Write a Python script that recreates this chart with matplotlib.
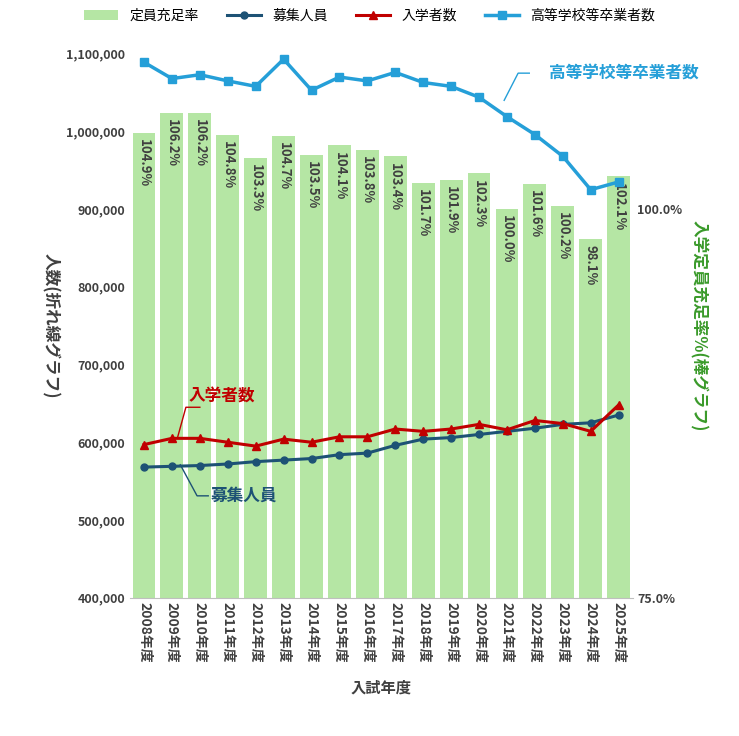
import matplotlib
matplotlib.use("Agg")
import matplotlib.pyplot as plt
import numpy as np

plt.rcParams['font.family'] = ['Noto Sans CJK JP', 'DejaVu Sans']

years = [f"{y}年度" for y in range(2008, 2026)]
rate = [104.9,106.2,106.2,104.8,103.3,104.7,103.5,104.1,103.8,103.4,101.7,101.9,102.3,100.0,101.6,100.2,98.1,102.1]
boshu = [568000,569000,570000,572000,575000,577000,579000,584000,586000,596000,604000,606000,610000,614000,618000,623000,625000,635000]
nyugaku = [597000,605000,605000,600000,595000,604000,600000,607000,607000,617000,614000,617000,623000,616000,628000,624000,614000,648000]
kotou = [1089000,1068000,1073000,1065000,1058000,1093000,1053000,1070000,1065000,1076000,1063000,1058000,1044000,1019000,996000,968000,925000,935000]

fig = plt.figure(figsize=(7.39,7.36), dpi=100)
ax = fig.add_axes([0.176, 0.188, 0.68, 0.739])
ax2 = ax.twinx()
x = np.arange(len(years))

ax2.bar(x, rate, width=0.82, color='#b5e6a4', zorder=1, label='定員充足率')
ax2.set_ylim(75, 110)
ax2.set_yticks([75, 100])
ax2.set_yticklabels(['75.0%', '100.0%'], fontsize=9, color='#404040', fontweight='bold')
for i, r in enumerate(rate):
    ax2.text(i, r - 0.4, f"{r:.1f}%", rotation=-90, ha='center', va='top', fontsize=9.5, color='#404040', fontweight='bold')
ax2.set_ylabel('入学定員充足率%(棒グラフ)', rotation=-90, labelpad=18, fontsize=12, color='#3a9a2a', fontweight='bold')

ax.set_zorder(ax2.get_zorder()+1); ax.patch.set_visible(False)
ax.plot(x, boshu, color='#1d5275', marker='o', ms=5, lw=2.2, label='募集人員')
ax.plot(x, nyugaku, color='#c00000', marker='^', ms=6, lw=2.2, label='入学者数')
ax.plot(x, kotou, color='#259fd8', marker='s', ms=6, lw=2.5, label='高等学校等卒業者数')
ax.set_ylim(400000, 1100000)
ax.set_xlim(-0.5, len(years)-0.5)
ax.set_yticks(range(400000, 1100001, 100000))
ax.set_yticklabels([f"{v:,}" for v in range(400000, 1100001, 100000)], fontsize=9, color='#404040', fontweight='bold')
ax.set_xticks(x)
ax.set_xticklabels(years, rotation=-90, fontsize=10, color='#404040', fontweight='bold')
ax.set_ylabel('人数(折れ線グラフ)', rotation=-90, labelpad=18, fontsize=12, fontweight='bold', color='#404040')
ax.set_xlabel('入試年度', fontsize=11, fontweight='bold', color='#404040', labelpad=12)
for a in (ax, ax2):
    for s in a.spines.values(): s.set_visible(False)
    a.tick_params(length=0)
ax.spines['bottom'].set_visible(True); ax.spines['bottom'].set_color('#bfbfbf')

ax.text(17.2, 1075000, '高等学校等卒業者数', fontsize=12, fontweight='bold', color='#259fd8', ha='center', va='center')
ax.plot([12.9, 13.4, 13.8], [1040000, 1075000, 1075000], color='#259fd8', lw=1)
ax.text(1.6, 652000, '入学者数', fontsize=12, fontweight='bold', color='#c00000', ha='left')
ax.plot([1.2, 1.5, 2.0], [606000, 645000, 645000], color='#c00000', lw=1)
ax.text(2.4, 525000, '募集人員', fontsize=12, fontweight='bold', color='#1d5275', ha='left')
ax.plot([1.3, 1.9, 2.3], [571000, 531000, 531000], color='#1d5275', lw=1)

h1, l1 = ax2.get_legend_handles_labels()
h2, l2 = ax.get_legend_handles_labels()
fig.legend(h1+h2, l1+l2, loc='upper center', bbox_to_anchor=(0.5, 1.005), ncol=4, frameon=False, fontsize=10, handlelength=2.5)
fig.savefig('out.png', dpi=100)
